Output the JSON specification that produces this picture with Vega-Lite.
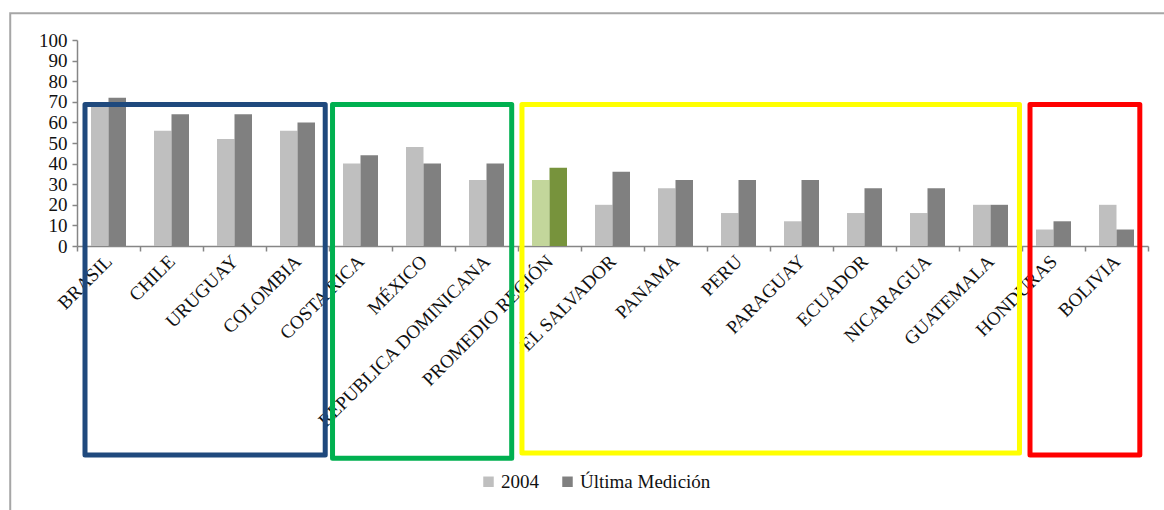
{
  "$schema": "https://vega.github.io/schema/vega-lite/v6.json",
  "width": 1071,
  "height": 206,
  "autosize": "none",
  "padding": {"left": 77, "top": 40, "right": 16, "bottom": 264},
  "background": "white",
  "config": {
    "view": {"stroke": null},
    "font": "Liberation Serif",
    "axis": {
      "title": null, "grid": false,
      "labelFont": "Liberation Serif", "labelColor": "#111111", "labelOverlap": false,
      "domainColor": "#868686", "domainWidth": 1.5,
      "tickColor": "#868686", "tickSize": 5, "tickWidth": 1.5
    },
    "axisX": {
      "labelAngle": -45, "labelAlign": "right", "labelBaseline": "middle",
      "labelFontSize": 19, "labelPadding": 7, "labelLimit": 400, "tickBand": "extent"
    },
    "axisY": {
      "tickCount": 10, "labelFontSize": 19, "labelPadding": 5
    }
  },
  "layer": [
    {
      "data": {"values": [
        {"pais": "BRASIL", "serie": "2004", "valor": 68},
        {"pais": "BRASIL", "serie": "Última Medición", "valor": 72},
        {"pais": "CHILE", "serie": "2004", "valor": 56},
        {"pais": "CHILE", "serie": "Última Medición", "valor": 64},
        {"pais": "URUGUAY", "serie": "2004", "valor": 52},
        {"pais": "URUGUAY", "serie": "Última Medición", "valor": 64},
        {"pais": "COLOMBIA", "serie": "2004", "valor": 56},
        {"pais": "COLOMBIA", "serie": "Última Medición", "valor": 60},
        {"pais": "COSTA RICA", "serie": "2004", "valor": 40},
        {"pais": "COSTA RICA", "serie": "Última Medición", "valor": 44},
        {"pais": "MÉXICO", "serie": "2004", "valor": 48},
        {"pais": "MÉXICO", "serie": "Última Medición", "valor": 40},
        {"pais": "REPUBLICA DOMINICANA", "serie": "2004", "valor": 32},
        {"pais": "REPUBLICA DOMINICANA", "serie": "Última Medición", "valor": 40},
        {"pais": "PROMEDIO REGIÓN", "serie": "2004", "valor": 32},
        {"pais": "PROMEDIO REGIÓN", "serie": "Última Medición", "valor": 38},
        {"pais": "EL SALVADOR", "serie": "2004", "valor": 20},
        {"pais": "EL SALVADOR", "serie": "Última Medición", "valor": 36},
        {"pais": "PANAMA", "serie": "2004", "valor": 28},
        {"pais": "PANAMA", "serie": "Última Medición", "valor": 32},
        {"pais": "PERU", "serie": "2004", "valor": 16},
        {"pais": "PERU", "serie": "Última Medición", "valor": 32},
        {"pais": "PARAGUAY", "serie": "2004", "valor": 12},
        {"pais": "PARAGUAY", "serie": "Última Medición", "valor": 32},
        {"pais": "ECUADOR", "serie": "2004", "valor": 16},
        {"pais": "ECUADOR", "serie": "Última Medición", "valor": 28},
        {"pais": "NICARAGUA", "serie": "2004", "valor": 16},
        {"pais": "NICARAGUA", "serie": "Última Medición", "valor": 28},
        {"pais": "GUATEMALA", "serie": "2004", "valor": 20},
        {"pais": "GUATEMALA", "serie": "Última Medición", "valor": 20},
        {"pais": "HONDURAS", "serie": "2004", "valor": 8},
        {"pais": "HONDURAS", "serie": "Última Medición", "valor": 12},
        {"pais": "BOLIVIA", "serie": "2004", "valor": 20},
        {"pais": "BOLIVIA", "serie": "Última Medición", "valor": 8}
      ]},
      "transform": [
        {"calculate": "datum.pais === 'PROMEDIO REGIÓN' ? 'P ' + datum.serie : datum.serie", "as": "clave"}
      ],
      "mark": {"type": "bar"},
      "encoding": {
        "x": {
          "field": "pais", "type": "nominal", "sort": null,
          "scale": {
            "domain": ["BRASIL","CHILE","URUGUAY","COLOMBIA","COSTA RICA","MÉXICO","REPUBLICA DOMINICANA","PROMEDIO REGIÓN","EL SALVADOR","PANAMA","PERU","PARAGUAY","ECUADOR","NICARAGUA","GUATEMALA","HONDURAS","BOLIVIA"],
            "paddingInner": 0, "paddingOuter": 0
          }
        },
        "xOffset": {
          "field": "serie", "type": "nominal", "sort": ["2004", "Última Medición"],
          "scale": {"paddingOuter": 0.8, "paddingInner": 0}
        },
        "y": {
          "field": "valor", "type": "quantitative",
          "scale": {"domain": [0, 100], "nice": false}
        },
        "color": {
          "field": "clave", "type": "nominal",
          "scale": {
            "domain": ["2004", "Última Medición", "P 2004", "P Última Medición"],
            "range": ["#bfbfbf", "#808080", "#c3d69b", "#77933c"]
          },
          "legend": {
            "title": null,
            "values": ["2004", "Última Medición"],
            "orient": "none", "legendX": 402, "legendY": 432,
            "direction": "horizontal",
            "symbolType": "square", "symbolSize": 110, "symbolStrokeWidth": 0,
            "labelFont": "Liberation Serif", "labelFontSize": 19, "labelColor": "#111111",
            "labelOffset": 3, "columnPadding": 19
          }
        }
      }
    },
    {
      "data": {"values": [{"desde": "BRASIL", "hasta": "BOLIVIA"}]},
      "mark": {"type": "rect", "filled": false, "fill": "transparent", "stroke": "#a6a6a6", "strokeWidth": 2, "clip": false},
      "encoding": {
        "x": {"field": "desde", "type": "nominal", "bandPosition": -1.06},
        "x2": {"field": "hasta", "bandPosition": 1.6},
        "y": {"datum": 113, "type": "quantitative"},
        "y2": {"datum": -140}
      }
    },
    {
      "data": {"values": [{"desde": "BRASIL", "hasta": "COLOMBIA"}]},
      "mark": {"type": "rect", "filled": false, "fill": "transparent", "stroke": "#1f497d", "strokeWidth": 5, "strokeJoin": "round", "clip": false},
      "encoding": {
        "x": {"field": "desde", "type": "nominal", "bandPosition": 0.127},
        "x2": {"field": "hasta", "bandPosition": 0.94},
        "y": {"datum": 68.7, "type": "quantitative"},
        "y2": {"datum": -101.5}
      }
    },
    {
      "data": {"values": [{"desde": "COSTA RICA", "hasta": "REPUBLICA DOMINICANA"}]},
      "mark": {"type": "rect", "filled": false, "fill": "transparent", "stroke": "#00b050", "strokeWidth": 5, "strokeJoin": "round", "clip": false},
      "encoding": {
        "x": {"field": "desde", "type": "nominal", "bandPosition": 0.056},
        "x2": {"field": "hasta", "bandPosition": 0.9},
        "y": {"datum": 68.7, "type": "quantitative"},
        "y2": {"datum": -103}
      }
    },
    {
      "data": {"values": [{"desde": "PROMEDIO REGIÓN", "hasta": "GUATEMALA"}]},
      "mark": {"type": "rect", "filled": false, "fill": "transparent", "stroke": "#ffff00", "strokeWidth": 5, "strokeJoin": "round", "clip": false},
      "encoding": {
        "x": {"field": "desde", "type": "nominal", "bandPosition": 0.063},
        "x2": {"field": "hasta", "bandPosition": 0.96},
        "y": {"datum": 68.7, "type": "quantitative"},
        "y2": {"datum": -100.5}
      }
    },
    {
      "data": {"values": [{"desde": "HONDURAS", "hasta": "BOLIVIA"}]},
      "mark": {"type": "rect", "filled": false, "fill": "transparent", "stroke": "#ff0000", "strokeWidth": 5, "strokeJoin": "round", "clip": false},
      "encoding": {
        "x": {"field": "desde", "type": "nominal", "bandPosition": 0.127},
        "x2": {"field": "hasta", "bandPosition": 0.87},
        "y": {"datum": 68.7, "type": "quantitative"},
        "y2": {"datum": -101.5}
      }
    }
  ]
}
